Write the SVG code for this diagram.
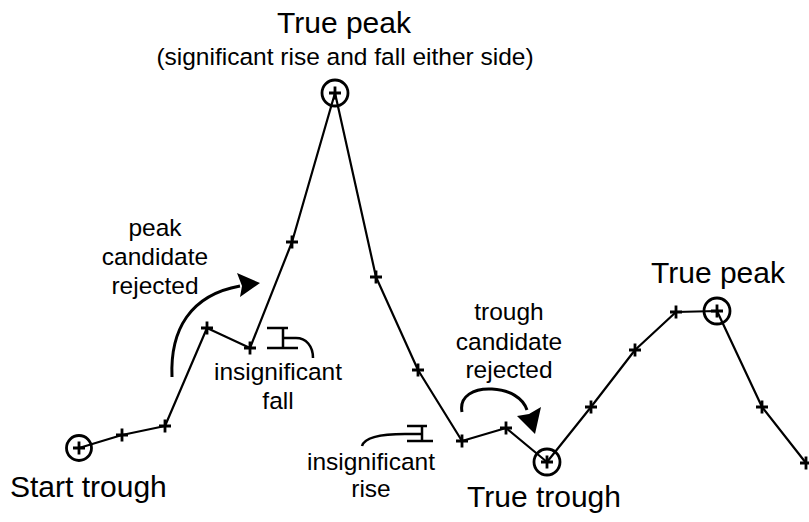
<svg xmlns="http://www.w3.org/2000/svg" xmlns:xlink="http://www.w3.org/1999/xlink" width="809" height="522" viewBox="0 0 809 522">
  <style>
    .line { fill: none; stroke: #000; stroke-width: 2.2; stroke-linejoin: round; }
    .plus { fill: none; stroke: #000; stroke-width: 2.8; }
    .ring { fill: none; stroke: #000; stroke-width: 2.8; }
    .arc { fill: none; stroke: #000; stroke-width: 3; }
    .brk { fill: none; stroke: #000; stroke-width: 2.5; }
    .big { font-family: "Liberation Sans", Arial, sans-serif; font-size: 30px; fill: #000; }
    .sm { font-family: "Liberation Sans", Arial, sans-serif; font-size: 24.5px; fill: #000; text-anchor: middle; }
  </style>
  <defs>
    <path id="p" class="plus" d="M-6,0H6M0,-6.5V6.5"/>
  </defs>
  <rect width="809" height="522" fill="#fff"/>

  <g id="connectors">
    <polyline class="line" points="79,448 122,435 165,426 207,328 250,348 292,242 335,93 376,277 418,370 462,441 506,428 547,462 591,407 635,350 676,312 717,311 762,407 806,463"/>
    <path class="arc" d="M172,377 C170,330 190,295 240,286"/>
    <path d="M260,283 L237,273 L242,286 L240,297 Z" fill="#000"/>
    <path class="arc" d="M462,412 C459,396 474,388 492,389 C510,390 523,398 527,410"/>
    <path d="M535,434 L517,416 L529,414 L541,407 Z" fill="#000"/>
  </g>

  <g id="start-trough">
    <circle class="ring" cx="79" cy="448" r="12.5"/>
    <use xlink:href="#p" x="79" y="448"/>
    <text class="big" x="10" y="497">Start trough</text>
  </g>
  <g id="pt2"><use xlink:href="#p" x="122" y="435"/></g>
  <g id="pt3"><use xlink:href="#p" x="165" y="426"/></g>
  <g id="pt4"><use xlink:href="#p" x="207" y="328"/></g>
  <g id="pt5"><use xlink:href="#p" x="250" y="348"/></g>
  <g id="pt6"><use xlink:href="#p" x="292" y="242"/></g>
  <g id="true-peak-1">
    <circle class="ring" cx="335" cy="93" r="13"/>
    <use xlink:href="#p" x="335" y="93"/>
    <text class="big" x="344" y="33" text-anchor="middle">True peak</text>
    <text class="sm" x="345" y="65">(significant rise and fall either side)</text>
  </g>
  <g id="pt8"><use xlink:href="#p" x="376" y="277"/></g>
  <g id="pt9"><use xlink:href="#p" x="418" y="370"/></g>
  <g id="pt10"><use xlink:href="#p" x="462" y="441"/></g>
  <g id="pt11"><use xlink:href="#p" x="506" y="428"/></g>
  <g id="true-trough">
    <circle class="ring" cx="547" cy="462" r="13"/>
    <use xlink:href="#p" x="547" y="462"/>
    <text class="big" x="467" y="507">True trough</text>
  </g>
  <g id="pt13"><use xlink:href="#p" x="591" y="407"/></g>
  <g id="pt14"><use xlink:href="#p" x="635" y="350"/></g>
  <g id="pt15"><use xlink:href="#p" x="676" y="312"/></g>
  <g id="true-peak-2">
    <circle class="ring" cx="717" cy="311" r="13"/>
    <use xlink:href="#p" x="717" y="311"/>
    <text class="big" x="651" y="283">True peak</text>
  </g>
  <g id="pt17"><use xlink:href="#p" x="762" y="407"/></g>
  <g id="pt18"><use xlink:href="#p" x="806" y="463"/></g>

  <g id="peak-rejected">
    <text class="sm" x="155" y="236">peak</text>
    <text class="sm" x="155" y="265">candidate</text>
    <text class="sm" x="155" y="294">rejected</text>
  </g>
  <g id="insignificant-fall">
    <path class="brk" d="M267,328H288M283,328V348M267,348H298M283,338H296C306,338 313,346 313,358"/>
    <text class="sm" x="278" y="380">insignificant</text>
    <text class="sm" x="278" y="409">fall</text>
  </g>
  <g id="trough-rejected">
    <text class="sm" x="509" y="320">trough</text>
    <text class="sm" x="509" y="350">candidate</text>
    <text class="sm" x="509" y="378">rejected</text>
  </g>
  <g id="insignificant-rise">
    <path class="brk" d="M407,426H427M422,426V441M407,441H433M422,434H405C385,434 365,436 362,446"/>
    <text class="sm" x="371" y="470">insignificant</text>
    <text class="sm" x="371" y="497">rise</text>
  </g>
</svg>
